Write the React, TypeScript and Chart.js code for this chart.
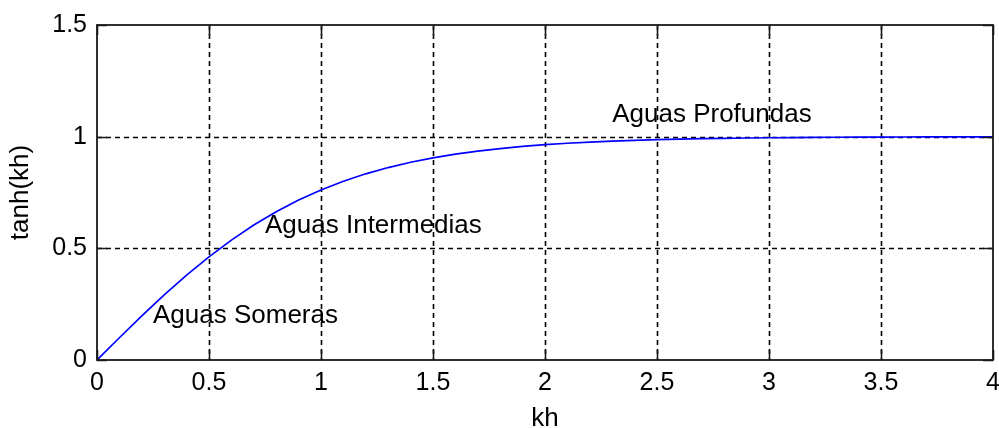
import React, { useEffect, useRef } from "react";
import { Chart, registerables } from "chart.js";

Chart.register(...registerables);

// kh values (x) and tanh(kh) values
const khValues = [
  0, 0.1, 0.2, 0.3, 0.4, 0.5, 0.6, 0.7, 0.8, 0.9, 1.0, 1.1, 1.2, 1.3, 1.4, 1.5,
  1.6, 1.7, 1.8, 1.9, 2.0, 2.1, 2.2, 2.3, 2.4, 2.5, 2.6, 2.7, 2.8, 2.9, 3.0, 3.1,
  3.2, 3.3, 3.4, 3.5, 3.6, 3.7, 3.8, 3.9, 4.0,
];
const tanhValues = [
  0, 0.0997, 0.1974, 0.2913, 0.3799, 0.4621, 0.537, 0.6044, 0.664, 0.7163,
  0.7616, 0.8005, 0.8337, 0.8617, 0.8854, 0.9051, 0.9217, 0.9354, 0.9468,
  0.9562, 0.964, 0.9705, 0.9757, 0.9801, 0.9837, 0.9866, 0.989, 0.991, 0.9926,
  0.994, 0.9951, 0.9959, 0.9967, 0.9973, 0.9978, 0.9982, 0.9985, 0.9988, 0.999,
  0.9992, 0.9993,
];
const xTicks = [0, 0.5, 1, 1.5, 2, 2.5, 3, 3.5, 4];
const yTicks = [0, 0.5, 1, 1.5];
const annotationTexts = ["Aguas Someras", "Aguas Intermedias", "Aguas Profundas"];
const annotationX = [0.25, 0.75, 2.3];
const annotationY = [0.2, 0.6, 1.1];

const FONT = "'Liberation Sans', Arial, Helvetica, sans-serif";

const matlabPlugin = {
  id: "matlabAxes",
  beforeDatasetsDraw(chart: any) {
    const { ctx, chartArea } = chart;
    const xs = chart.scales.x;
    const ys = chart.scales.y;
    ctx.save();
    ctx.strokeStyle = "#000";
    ctx.lineWidth = 1.6;
    ctx.setLineDash([5, 4]);
    xTicks.forEach((t) => {
      if (t === xs.min || t === xs.max) return;
      const px = Math.round(xs.getPixelForValue(t)) + 0.5;
      ctx.beginPath();
      ctx.moveTo(px, chartArea.top);
      ctx.lineTo(px, chartArea.bottom);
      ctx.stroke();
    });
    yTicks.forEach((t) => {
      if (t === ys.min || t === ys.max) return;
      const py = Math.round(ys.getPixelForValue(t)) + 0.5;
      ctx.beginPath();
      ctx.moveTo(chartArea.left, py);
      ctx.lineTo(chartArea.right, py);
      ctx.stroke();
    });
    ctx.restore();
  },
  afterDatasetsDraw(chart: any) {
    const { ctx, chartArea } = chart;
    const xs = chart.scales.x;
    const ys = chart.scales.y;
    ctx.save();
    // annotations
    ctx.fillStyle = "#000";
    ctx.font = `26px ${FONT}`;
    ctx.textAlign = "left";
    ctx.textBaseline = "middle";
    annotationTexts.forEach((txt, i) => {
      ctx.fillText(txt, xs.getPixelForValue(annotationX[i]), ys.getPixelForValue(annotationY[i]));
    });
    // box
    ctx.setLineDash([]);
    ctx.strokeStyle = "#1a1a1a";
    ctx.lineWidth = 1.8;
    ctx.strokeRect(chartArea.left, chartArea.top, chartArea.right - chartArea.left, chartArea.bottom - chartArea.top);
    // inward ticks
    const tl = 10;
    ctx.lineWidth = 1.6;
    ctx.beginPath();
    xTicks.forEach((t) => {
      const px = Math.round(xs.getPixelForValue(t)) + 0.5;
      ctx.moveTo(px, chartArea.bottom);
      ctx.lineTo(px, chartArea.bottom - tl);
      ctx.moveTo(px, chartArea.top);
      ctx.lineTo(px, chartArea.top + tl);
    });
    yTicks.forEach((t) => {
      const py = Math.round(ys.getPixelForValue(t)) + 0.5;
      ctx.moveTo(chartArea.left, py);
      ctx.lineTo(chartArea.left + tl, py);
      ctx.moveTo(chartArea.right, py);
      ctx.lineTo(chartArea.right - tl, py);
    });
    ctx.stroke();
    ctx.restore();
  },
};

export default function App() {
  const canvasRef = useRef<HTMLCanvasElement | null>(null);

  useEffect(() => {
    document.body.style.margin = "0";
    const canvas = canvasRef.current;
    if (!canvas) return;
    const chart = new Chart(canvas, {
      type: "line",
      data: {
        datasets: [
          {
            data: khValues.map((x, i) => ({ x, y: tanhValues[i] })),
            borderColor: "#0000ff",
            borderWidth: 1.7,
            pointRadius: 0,
            tension: 0,
            fill: false,
          },
        ],
      },
      options: {
        animation: false,
        responsive: false,
        devicePixelRatio: 1,
        layout: { padding: { top: 23, right: 6, left: 0, bottom: 0 } },
        plugins: { legend: { display: false }, tooltip: { enabled: false } },
        scales: {
          x: {
            type: "linear",
            min: 0,
            max: 4,
            afterBuildTicks: (scale: any) => {
              scale.ticks = xTicks.map((v) => ({ value: v }));
            },
            afterFit: (scale: any) => {
              scale.height = 68;
              scale.paddingLeft = 0;
              scale.paddingRight = 0;
            },
            grid: { display: false, drawTicks: false },
            border: { display: false },
            ticks: {
              padding: 8,
              color: "#000",
              maxRotation: 0,
              autoSkip: false,
              font: { family: FONT, size: 25 },
              callback: (v: any) => String(v),
            },
            title: {
              display: true,
              text: "kh",
              color: "#000",
              font: { family: FONT, size: 26, lineHeight: 1 },
              padding: { top: 0, bottom: -4 },
            },
          },
          y: {
            type: "linear",
            min: 0,
            max: 1.5,
            afterBuildTicks: (scale: any) => {
              scale.ticks = yTicks.map((v) => ({ value: v }));
            },
            afterFit: (scale: any) => {
              scale.width = 97;
            },
            grid: { display: false, drawTicks: false },
            border: { display: false },
            ticks: {
              padding: 10,
              color: "#000",
              autoSkip: false,
              font: { family: FONT, size: 25 },
              callback: (v: any) => String(v),
            },
            title: {
              display: true,
              text: "tanh(kh)",
              color: "#000",
              font: { family: FONT, size: 26, lineHeight: 1 },
              padding: { top: 8, bottom: 0 },
            },
          },
        },
      },
      plugins: [matlabPlugin],
    });
    return () => chart.destroy();
  }, []);

  return (
    <div style={{ width: 999, height: 428, background: "#fff" }}>
      <canvas ref={canvasRef} width={999} height={428} style={{ display: "block", width: 999, height: 428 }} />
    </div>
  );
}
